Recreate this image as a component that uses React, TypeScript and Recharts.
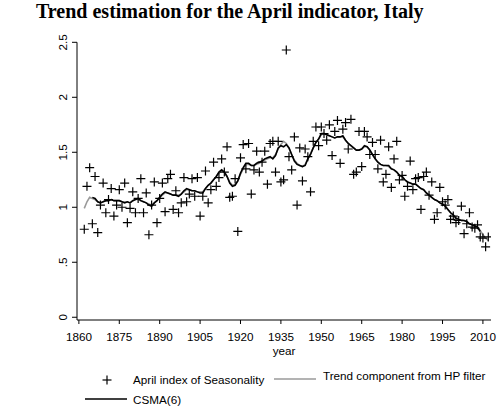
import React from "react";
import { ComposedChart, Scatter, Line, XAxis, YAxis, Legend } from "recharts";

// April index of seasonality, one value per year from firstYear on
const firstYear = 1862;
const aprilIndex = [
  0.8, 1.19, 1.36, 0.85, 1.28, 0.77, 1.02, 1.22, 0.95, 1.07,
  1.17, 0.92, 1.02, 1.16, 1.0, 1.22, 0.86, 0.99, 1.14, 0.95,
  1.08, 1.26, 0.95, 1.13, 0.75, 1.02, 1.23, 0.86, 1.08, 1.22,
  0.96, 1.26, 1.3, 0.98, 1.15, 0.95, 1.04, 1.27, 1.05, 1.12,
  1.26, 1.1, 1.27, 0.92, 1.1, 1.33, 1.04, 1.16, 1.41, 1.19,
  1.27, 1.44, 1.32, 1.55, 1.09, 1.1, 1.26, 0.78, 1.45, 1.57,
  1.35, 1.58, 1.12, 1.34, 1.51, 1.32, 1.41, 1.51, 1.21, 1.58,
  1.6, 1.32, 1.6, 1.23, 1.25, 2.43, 1.46, 1.34, 1.64, 1.02,
  1.54, 1.24, 1.53, 1.46, 1.14, 1.6, 1.73, 1.56, 1.73, 1.67,
  1.61, 1.75, 1.47, 1.69, 1.79, 1.4, 1.71, 1.77, 1.53, 1.8,
  1.3, 1.32, 1.69, 1.37, 1.69, 1.64, 1.48, 1.59, 1.48, 1.35,
  1.61, 1.23, 1.3, 1.55, 1.18, 1.44, 1.6, 1.25, 1.29, 1.1,
  1.19, 1.42, 1.16, 1.26, 1.27, 0.98, 1.28, 1.32, 1.11, 1.23,
  0.89, 0.95, 1.18, 1.05, 1.02, 1.07, 0.89, 0.92, 0.86, 0.88,
  1.01, 0.76, 0.85, 0.95, 0.82, 0.81, 0.84, 0.73, 0.72, 0.64,
  0.73,
];

// HP filter trend, same years as aprilIndex
const hpTrend = [
  0.99, 1.05, 1.09, 1.08, 1.07, 1.05, 1.04, 1.05, 1.06, 1.06,
  1.07, 1.06, 1.06, 1.06, 1.05, 1.05, 1.05, 1.04, 1.06, 1.07,
  1.07, 1.06, 1.05, 1.04, 1.03, 1.02, 1.04, 1.06, 1.09, 1.11,
  1.13, 1.13, 1.12, 1.11, 1.11, 1.11, 1.12, 1.14, 1.16, 1.16,
  1.15, 1.15, 1.14, 1.14, 1.14, 1.17, 1.2, 1.22, 1.25, 1.28,
  1.31, 1.33, 1.32, 1.28, 1.23, 1.2, 1.21, 1.24, 1.3, 1.35,
  1.39, 1.39, 1.38, 1.38, 1.39, 1.4, 1.42, 1.43, 1.44, 1.45,
  1.45, 1.48, 1.53, 1.57, 1.6, 1.58, 1.54, 1.48, 1.43, 1.4,
  1.38, 1.37, 1.39, 1.44, 1.49, 1.54, 1.59, 1.62, 1.66, 1.67,
  1.66, 1.65, 1.64, 1.63, 1.64, 1.64, 1.64, 1.61, 1.58, 1.56,
  1.54, 1.52, 1.52, 1.53, 1.55, 1.55, 1.52, 1.48, 1.44, 1.41,
  1.39, 1.38, 1.38, 1.37, 1.35, 1.34, 1.32, 1.29, 1.28, 1.25,
  1.23, 1.22, 1.21, 1.21, 1.19, 1.17, 1.16, 1.13, 1.11, 1.09,
  1.07, 1.06, 1.04, 1.03, 1.01, 0.98, 0.95, 0.93, 0.91, 0.89,
  0.88, 0.88, 0.87, 0.85, 0.84, 0.83, 0.82, 0.79, 0.75, 0.72,
  0.7,
];

// centred moving average, starts later and ends earlier
const csmaStart = 1865;
const csma6 = [
  1.09, 1.08, 1.05, 1.04, 1.05, 1.06, 1.06, 1.07, 1.06, 1.06,
  1.06, 1.05, 1.04, 1.05, 1.04, 1.06, 1.07, 1.08, 1.06, 1.05,
  1.04, 1.02, 1.01, 1.04, 1.06, 1.09, 1.12, 1.14, 1.13, 1.12,
  1.11, 1.11, 1.1, 1.12, 1.15, 1.17, 1.16, 1.15, 1.15, 1.14,
  1.13, 1.13, 1.17, 1.2, 1.22, 1.25, 1.28, 1.32, 1.34, 1.32,
  1.28, 1.22, 1.19, 1.2, 1.24, 1.31, 1.36, 1.4, 1.4, 1.38,
  1.38, 1.4, 1.41, 1.42, 1.44, 1.45, 1.46, 1.44, 1.47, 1.54,
  1.56, 1.55, 1.57, 1.54, 1.48, 1.42, 1.39, 1.38, 1.37, 1.38,
  1.44, 1.48, 1.54, 1.59, 1.62, 1.67, 1.67, 1.66, 1.65, 1.64,
  1.63, 1.64, 1.64, 1.65, 1.61, 1.58, 1.56, 1.54, 1.52, 1.52,
  1.53, 1.56, 1.55, 1.52, 1.48, 1.44, 1.41, 1.39, 1.38, 1.38,
  1.38, 1.35, 1.34, 1.32, 1.29, 1.28, 1.25, 1.23, 1.22, 1.21,
  1.21, 1.19, 1.17, 1.16, 1.13, 1.11, 1.09, 1.07, 1.06, 1.04,
  1.03, 1.01, 0.98, 0.95, 0.93, 0.9, 0.89, 0.88, 0.88, 0.87,
  0.85, 0.84, 0.83, 0.82, 0.78,
];

const xTicks = [1860, 1875, 1890, 1905, 1920, 1935, 1950, 1965, 1980, 1995, 2010];
const yTicks = [0, 0.5, 1, 1.5, 2, 2.5];
const yTickLabels = ["0", ".5", "1", "1.5", "2", "2.5"];

const data = aprilIndex.map((v, i) => {
  const year = firstYear + i;
  const k = year - csmaStart;
  return {
    year,
    april: v,
    hp: hpTrend[i],
    csma: k >= 0 && k < csma6.length ? csma6[k] : null,
  };
});

const sans = "'Liberation Sans', Arial, sans-serif";
const fs = 11.7;

const Plus = (props: any) => {
  const { cx, cy } = props;
  if (cx == null || cy == null) return null;
  return (
    <g>
      <line x1={cx - 4.5} x2={cx + 4.5} y1={cy} y2={cy} stroke="#000" strokeWidth={1.2} />
      <line x1={cx} x2={cx} y1={cy - 4.5} y2={cy + 4.5} stroke="#000" strokeWidth={1.2} />
    </g>
  );
};

const YTick = (props: any) => {
  const { x, y, payload } = props;
  const idx = yTicks.indexOf(payload.value);
  const lx = x - 3;
  return (
    <text
      x={lx}
      y={y}
      transform={`rotate(-90 ${lx} ${y})`}
      textAnchor="middle"
      fontSize={fs}
      fontFamily={sans}
      fill="#000"
    >
      {idx >= 0 ? yTickLabels[idx] : payload.value}
    </text>
  );
};

const LegendBox = () => (
  <svg width={504} height={50}>
    <g transform="translate(0,-365)">
      <Plus cx={107} cy={380} />
      <text x={133} y={384} fontSize={fs} fontFamily={sans} fill="#000">
        April index of Seasonality
      </text>
      <line x1={274} x2={316} y1={379} y2={379} stroke="#9a9a9a" strokeWidth={1.6} />
      <text x={323} y={380} fontSize={fs} fontFamily={sans} fill="#000">
        Trend component from HP filter
      </text>
      <line x1={85} x2={127} y1={399} y2={399} stroke="#000" strokeWidth={1.6} />
      <text x={133} y={404} fontSize={fs} fontFamily={sans} fill="#000">
        CSMA(6)
      </text>
    </g>
  </svg>
);

export default function App() {
  return (
    <div style={{ position: "absolute", left: 0, top: 0, width: 504, height: 416, background: "#fff" }}>
      <ComposedChart
        width={504}
        height={416}
        data={data}
        margin={{ top: 42.3, right: 13, bottom: 66, left: 0 }}
      >
        <text
          x={36}
          y={18}
          fontSize={20}
          fontWeight="bold"
          fontFamily="'Liberation Serif', 'Times New Roman', serif"
          fill="#000"
        >
          Trend estimation for the April indicator, Italy
        </text>
        <XAxis
          dataKey="year"
          type="number"
          domain={[1859.3, 2013]}
          ticks={xTicks}
          allowDataOverflow
          height={30}
          tickSize={4}
          tickMargin={8.7}
          stroke="#000"
          tick={{ fontSize: fs, fontFamily: sans, fill: "#000" }}
          label={{
            content: () => (
              <text x={284} y={355} textAnchor="middle" fontSize={fs} fontFamily={sans} fill="#000">
                year
              </text>
            ),
          }}
        />
        <YAxis
          type="number"
          domain={[-0.025, 2.5]}
          ticks={yTicks}
          allowDataOverflow
          width={77}
          tickSize={5}
          tickMargin={2}
          stroke="#000"
          tick={<YTick />}
        />
        <Legend
          layout="horizontal"
          verticalAlign="middle"
          align="center"
          wrapperStyle={{ top: 365, left: 0, width: 504, height: 50 }}
          content={() => <LegendBox />}
        />
        <Scatter dataKey="april" shape={<Plus />} isAnimationActive={false} />
        <Line
          dataKey="hp"
          type="linear"
          stroke="#9a9a9a"
          strokeWidth={1.6}
          dot={false}
          activeDot={false}
          isAnimationActive={false}
        />
        <Line
          dataKey="csma"
          type="linear"
          stroke="#000"
          strokeWidth={1.6}
          dot={false}
          activeDot={false}
          connectNulls={false}
          isAnimationActive={false}
        />
      </ComposedChart>
    </div>
  );
}
